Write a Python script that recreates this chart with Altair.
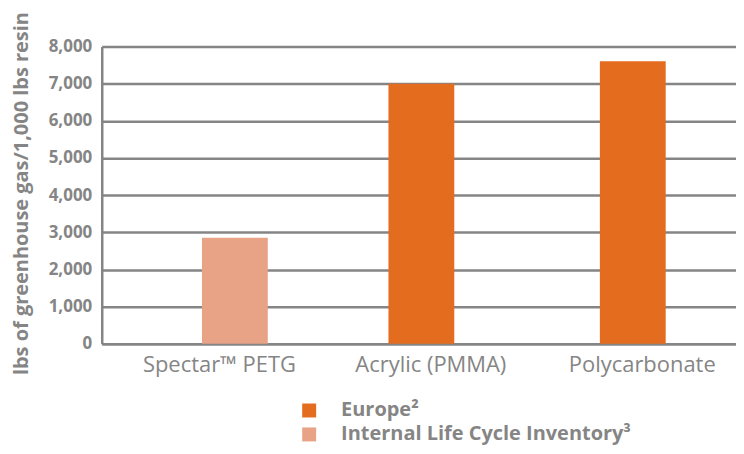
import altair as alt
import pandas as pd

categories = ["Spectar™ PETG", "Acrylic (PMMA)", "Polycarbonate"]
values = [2850, 7000, 7600]
series = ["Internal Life Cycle Inventory³", "Europe²", "Europe²"]
legend_order = ["Europe²", "Internal Life Cycle Inventory³"]
legend_colors = ["#E46C1F", "#E8A286"]

df = pd.DataFrame({"material": categories, "value": values, "series": series})

GRAY = "#858585"
FONT = "Open Sans"

chart = alt.Chart(df).mark_bar(width=66).encode(
    x=alt.X("material:N", sort=categories,
            scale=alt.Scale(paddingInner=0, paddingOuter=0),
            axis=alt.Axis(title=None, labelAngle=0, labelFontSize=22, labelColor=GRAY,
                          labelFont=FONT, labelPadding=11, ticks=False, labelOffset=12,
                          domainColor=GRAY, domainWidth=2.5, labelBaseline="top")),
    xOffset=alt.XOffset("series:N",
                        scale=alt.Scale(domain=legend_order, range=[96, 146],
                                        paddingInner=0, paddingOuter=0)),
    y=alt.Y("value:Q", scale=alt.Scale(domain=[0, 8000], nice=False),
            axis=alt.Axis(title="lbs of greenhouse gas/1,000 lbs resin",
                          values=list(range(0, 8001, 1000)), format=",d",
                          labelFontSize=17, labelFontWeight="bold", labelColor=GRAY,
                          labelFont=FONT, labelPadding=10, ticks=False,
                          domainColor=GRAY, domainWidth=2.5,
                          grid=True, gridColor=GRAY, gridWidth=2.5,
                          titleFontSize=20, titleFont=FONT, titleFontWeight="bold",
                          titleColor=GRAY, titleAngle=-90, titleX=-80, titleY=147,
                          titleAlign="center", titleBaseline="middle")),
    color=alt.Color("series:N",
                    scale=alt.Scale(domain=legend_order, range=legend_colors),
                    legend=alt.Legend(title=None, orient="none", legendX=198, legendY=355,
                                      symbolType="square", symbolSize=196,
                                      symbolStrokeWidth=0, labelFontSize=20,
                                      labelFontWeight="bold", labelColor=GRAY,
                                      labelFont=FONT, labelOffset=22, rowPadding=4,
                                      labelLimit=500)),
).properties(
    width=636, height=298,
    title=alt.TitleParams("Greenhouse gas emissions", fontSize=26, font=FONT,
                          fontWeight="bold", color=GRAY, anchor="middle",
                          baseline="bottom", offset=33, dx=-63),
    autosize=alt.AutoSizeParams(type="none"),
    padding={"left": 94, "top": 38, "right": 0, "bottom": 102},
).configure_view(stroke=None)

chart.save("out.html", embed_options={"renderer": "svg", "actions": False})
